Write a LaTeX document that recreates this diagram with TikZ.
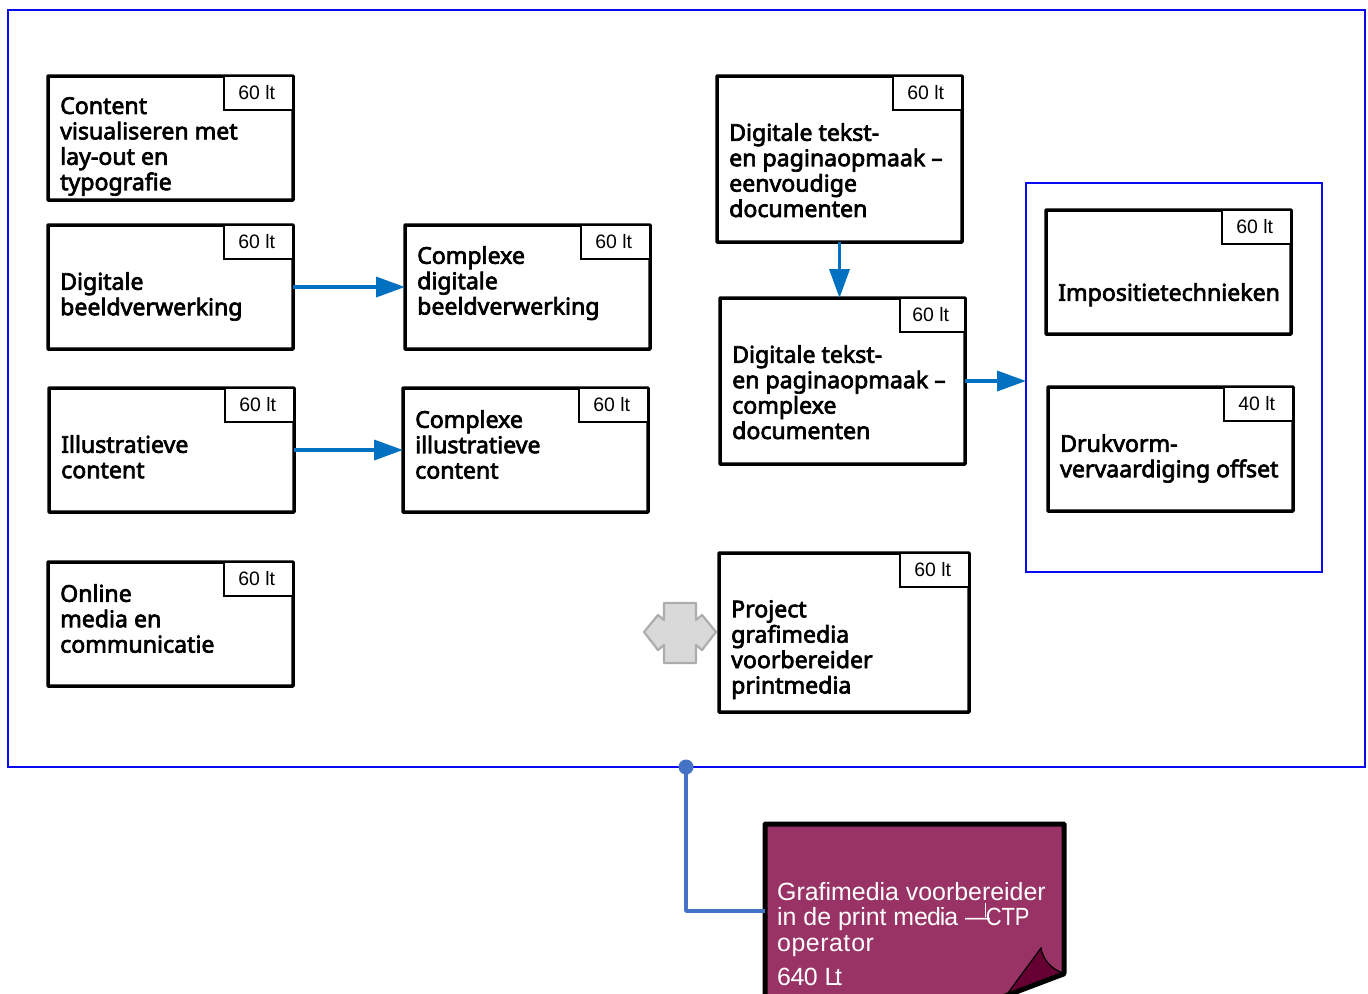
\documentclass[tikz,border=0pt]{standalone}
\usepackage{fontspec}
\setmainfont{Liberation Sans}
\newfontfamily\bodyf[FakeBold=3]{Noto Sans}
\usetikzlibrary{arrows.meta}
\definecolor{frameblue}{HTML}{0A0AF0}
\definecolor{arrowblue}{HTML}{0070C0}
\definecolor{linkblue}{HTML}{4472C4}
\definecolor{plum}{HTML}{993366}
\definecolor{plumdark}{HTML}{660033}
\tikzset{
  x=1bp,y=-1bp,
  badgew/.style={minimum width=69bp},
  course/.style={draw=black,line width=3.5bp,fill=white,rounded corners=0.6bp,anchor=north west,inner sep=0pt,outer sep=0pt},
  badge/.style={draw=black,line width=1.5bp,fill=white,anchor=north east,badgew,minimum height=34bp,inner sep=0pt,outer sep=0pt,font=\fontsize{19.5}{20}\selectfont},
  lbl/.style={anchor=north west,inner sep=0pt,align=left,font=\fontsize{23.2}{25.5}\bodyf},
  frame/.style={draw=frameblue,anchor=north west,inner sep=0pt,outer sep=0pt},
  flow/.style={draw=arrowblue,line width=3.5bp,-{Triangle[length=29bp,width=20bp]}},
}
\newcommand{\course}[8]{% name x0 y0 x1 y1 badgetext labelY lines
  \node[course,minimum width=#4bp-#2bp,minimum height=#5bp-#3bp] (#1) at (#2,#3) {};
  \node[badge] (#1b) at (#4,#3) {#6\kern3.5bp};
  \node[lbl] (#1t) at (#2+12,#7) {#8};
}
\begin{document}
\begin{tikzpicture}
\useasboundingbox (0,0) rectangle (1368,993);
\clip (0,0) rectangle (1368,993);
\fill[white] (0,0) rectangle (1368,993);
\node[frame,line width=1.6bp,minimum width=1357bp,minimum height=757bp] (outer) at (8,10) {};
\node[frame,line width=1.4bp,minimum width=296bp,minimum height=389bp] (inner) at (1026,183) {};
\course{a}{48}{76}{293}{200}{60 lt}{97}{Content\\visualiseren met\\lay-out en\\typografie}
\course{b}{48}{225}{293}{349}{60 lt}{272}{Digitale\\beeldverwerking}
\course{c}{405}{225}{650}{349}{60 lt}{246}{Complexe\\digitale\\beeldverwerking}
\course{d}{49}{388}{294}{512}{60 lt}{435}{Illustratieve\\content}
\course{e}{403}{388}{648}{512}{60 lt}{410}{Complexe\\illustratieve\\content}
\course{f}{48}{562}{293}{686}{60 lt}{584}{Online\\media en\\communicatie}
\course{g}{717}{76}{962}{242}{60 lt}{123}{Digitale tekst-\\en paginaopmaak –\\eenvoudige\\documenten}
\begin{scope}[badgew/.style={minimum width=65bp}]
\course{h}{720}{298}{965}{464}{60 lt}{345}{Digitale tekst-\\en paginaopmaak –\\complexe\\documenten}
\end{scope}
\course{i}{1046}{210}{1291}{334}{60 lt}{283}{Impositietechnieken}
\course{j}{1048}{387}{1293}{511}{40 lt}{434}{Drukvorm-\\vervaardiging offset}
\course{k}{719}{553}{969}{712}{60 lt}{600}{Project\\grafimedia\\voorbereider\\printmedia}
\draw[flow] (b.east) -- (c.west);
\draw[flow] (d.east) -- (e.west);
\draw[flow] (g.south) -- (g.south |- h.north);
\draw[flow] (h.east) -- (h.east -| inner.west);
% four-way arrow
\draw[draw=black!32,fill=black!15,line width=2.2bp,line join=round]
  (664,603) -- (696,603) -- (696,620) -- (702,615) -- (716,632) -- (702,650) -- (696,645) -- (696,663)
  -- (664,663) -- (664,645) -- (658,650) -- (644,632) -- (658,615) -- (664,620) -- cycle;
% note
\node[draw=black,fill=plum,line width=5bp,rounded corners=0.6bp,anchor=north west,inner sep=0pt,outer sep=0pt,minimum width=299bp,minimum height=200bp] (note) at (765,824) {};
\coordinate (dot) at (686,767);
\coordinate (bend) at (686,911);
\draw[linkblue,line width=3.5bp,line join=round] (dot) -- (bend) -- (bend -| note.west);
\fill[linkblue] (dot) circle (7.5bp);
% page fold
\fill[white] (1070,973) -- (1075,1000) -- (1003,1000) -- (1064,974) -- cycle;
\draw[fill=plumdark,line width=1.2bp,draw=black] (1041,948) .. controls (1043,960) and (1052,970) .. (1064,973) -- (1005,997) -- cycle;
\draw[black,line width=5bp,line cap=round] (1063.5,974) -- (1000,998);
\node[anchor=north west,inner sep=0pt,align=left,text=white,font=\fontsize{25}{25.5}\selectfont] (nt) at (777,882) {Grafimedia voorbereider\\in de print me\kern-1bp d\kern-1bp i\kern-1bp a \makebox[22bp][l]{---}\kern-1.5bp\scalebox{0.88}[1]{CTP}\\o\kern0.5bp p\kern0.5bp e\kern0.5bp r\kern0.5bp a\kern0.5bp t\kern1bp o\kern0.5bp r};
\node[anchor=north west,inner sep=0pt,text=white,font=\fontsize{25}{25.5}\selectfont] (nl) at (777,968) {6\kern-0.5bp 4\kern-0.5bp 0 L\kern-3.5bp t};
\draw[white,line width=0.9bp] (985,903) -- (985,917);
\end{tikzpicture}
\end{document}
